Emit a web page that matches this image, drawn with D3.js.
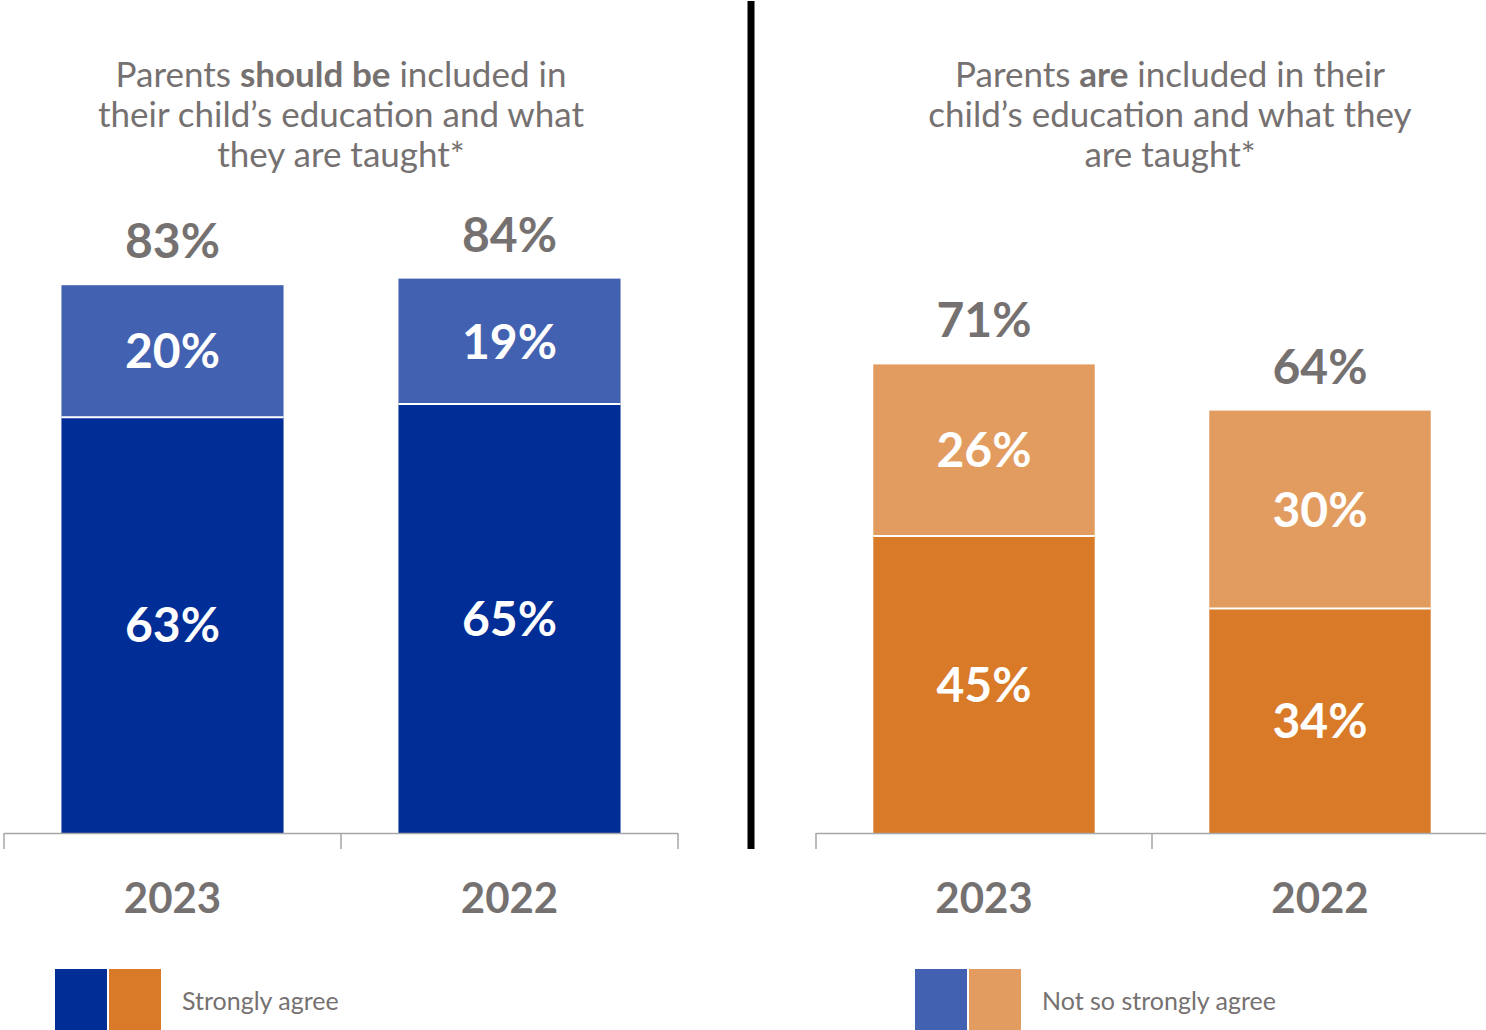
<!DOCTYPE html>
<html>
<head>
<meta charset="utf-8">
<script src="https://cdn.jsdelivr.net/npm/d3@7"></script>
<style>
  html, body { margin: 0; padding: 0; background: #fff; }
  svg { display: block; font-family: Lato, "Open Sans", sans-serif; }
</style>
</head>
<body>
<svg id="chart" width="1486" height="1030"></svg>
<script>
// Survey waves shown on each panel
const years = ["2023", "2022"];

// "Should be included" panel (percent)
const shouldStrongly = [63, 65];
const shouldNotSo = [20, 19];
const shouldTotal = [83, 84];

// "Are included" panel (percent)
const areStrongly = [45, 34];
const areNotSo = [26, 30];
const areTotal = [71, 64];

const legendLabels = ["Strongly agree", "Not so strongly agree"];

const GRAY = "#767171";
const AXIS = "#a6a6a6";

const svg = d3.select("#chart");

// Shared vertical scale for both panels
const y = d3.scaleLinear().domain([0, 100]).range([833, 173]);

const panels = [
  {
    range: [4, 678],
    titleX: 341,
    title: [
      [["Parents ", false], ["should be", true], [" included in", false]],
      [["their child\u2019s education and what", false]],
      [["they are taught*", false]]
    ],
    strong: shouldStrongly, notSo: shouldNotSo, total: shouldTotal,
    dark: "#002d96", light: "#4262b1"
  },
  {
    range: [816, 1488],
    titleX: 1170,
    title: [
      [["Parents ", false], ["are", true], [" included in their", false]],
      [["child\u2019s education and what they", false]],
      [["are taught*", false]]
    ],
    strong: areStrongly, notSo: areNotSo, total: areTotal,
    dark: "#d97a28", light: "#e39c5f"
  }
];

panels.forEach(p => {
  const g = svg.append("g");
  const pad = 0.341;
  const x = d3.scaleBand().domain(years).range(p.range).paddingInner(pad).paddingOuter(pad / 2);

  // Title
  const t = g.append("text")
    .attr("text-anchor", "middle")
    .attr("fill", GRAY)
    .attr("font-size", 35);
  p.title.forEach((line, i) => {
    line.forEach(([txt, bold], j) => {
      const ts = t.append("tspan").text(txt).attr("font-weight", bold ? 700 : 400);
      if (j === 0) ts.attr("x", p.titleX).attr("y", 87 + i * 40);
    });
  });

  const rows = years.map((yr, i) => ({
    year: yr, strong: p.strong[i], notSo: p.notSo[i], total: p.total[i]
  }));

  // Lower segment: strongly agree
  g.selectAll("rect.strong").data(rows).join("rect")
    .attr("class", "strong")
    .attr("x", d => x(d.year))
    .attr("width", x.bandwidth())
    .attr("y", d => y(d.strong))
    .attr("height", d => y(0) - y(d.strong))
    .attr("fill", p.dark);

  // Upper segment: not so strongly agree
  g.selectAll("rect.notso").data(rows).join("rect")
    .attr("class", "notso")
    .attr("x", d => x(d.year))
    .attr("width", x.bandwidth())
    .attr("y", d => y(d.strong + d.notSo))
    .attr("height", d => y(d.strong) - y(d.strong + d.notSo))
    .attr("fill", p.light);

  // White separator between segments
  g.selectAll("line.sep").data(rows).join("line")
    .attr("x1", d => x(d.year)).attr("x2", d => x(d.year) + x.bandwidth())
    .attr("y1", d => y(d.strong)).attr("y2", d => y(d.strong))
    .attr("stroke", "#fff").attr("stroke-width", 2);

  // Segment labels
  const segLabel = (sel, val, mid) => sel
    .attr("x", d => x(d.year) + x.bandwidth() / 2)
    .attr("y", mid)
    .attr("dy", "0.36em")
    .attr("text-anchor", "middle")
    .attr("fill", "#fff")
    .attr("font-weight", 700)
    .attr("font-size", 48)
    .text(d => val(d) + "%");

  g.selectAll("text.strong").data(rows).join("text").attr("class", "strong")
    .call(segLabel, d => d.strong, d => (y(0) + y(d.strong)) / 2);
  g.selectAll("text.notso").data(rows).join("text").attr("class", "notso")
    .call(segLabel, d => d.notSo, d => (y(d.strong) + y(d.strong + d.notSo)) / 2);

  // Totals above the stacks
  g.selectAll("text.total").data(rows).join("text").attr("class", "total")
    .attr("x", d => x(d.year) + x.bandwidth() / 2)
    .attr("y", d => y(d.total) - 27)
    .attr("text-anchor", "middle")
    .attr("fill", GRAY)
    .attr("font-weight", 700)
    .attr("font-size", 48)
    .text(d => d.total + "%");

  // Category axis with ticks at band boundaries
  const [r0, r1] = p.range;
  g.append("line")
    .attr("x1", r0).attr("x2", r1).attr("y1", y(0) + 0.5).attr("y2", y(0) + 0.5)
    .attr("stroke", AXIS).attr("stroke-width", 1.5);
  const bounds = [r0, (r0 + r1) / 2, r1];
  g.selectAll("line.tick").data(bounds).join("line")
    .attr("class", "tick")
    .attr("x1", d => d).attr("x2", d => d)
    .attr("y1", y(0)).attr("y2", y(0) + 16)
    .attr("stroke", AXIS).attr("stroke-width", 1.5);

  g.selectAll("text.year").data(years).join("text").attr("class", "year")
    .attr("x", d => x(d) + x.bandwidth() / 2)
    .attr("y", 913)
    .attr("text-anchor", "middle")
    .attr("fill", GRAY)
    .attr("font-weight", 700)
    .attr("font-size", 42)
    .text(d => d);
});

// Divider between the two panels
svg.append("line")
  .attr("x1", 751).attr("x2", 751).attr("y1", 1).attr("y2", 849)
  .attr("stroke", "#000").attr("stroke-width", 7);

// Legend
const legend = [
  { x: 55, colors: [panels[0].dark, panels[1].dark], label: legendLabels[0] },
  { x: 915, colors: [panels[0].light, panels[1].light], label: legendLabels[1] }
];
legend.forEach(l => {
  const lg = svg.append("g");
  l.colors.forEach((c, i) => {
    lg.append("rect")
      .attr("x", l.x + i * 54).attr("y", 969)
      .attr("width", 52).attr("height", 70)
      .attr("fill", c);
  });
  lg.append("text")
    .attr("x", l.x + 127).attr("y", 1010)
    .attr("fill", GRAY)
    .attr("font-size", 25)
    .text(l.label);
});
</script>
</body>
</html>
